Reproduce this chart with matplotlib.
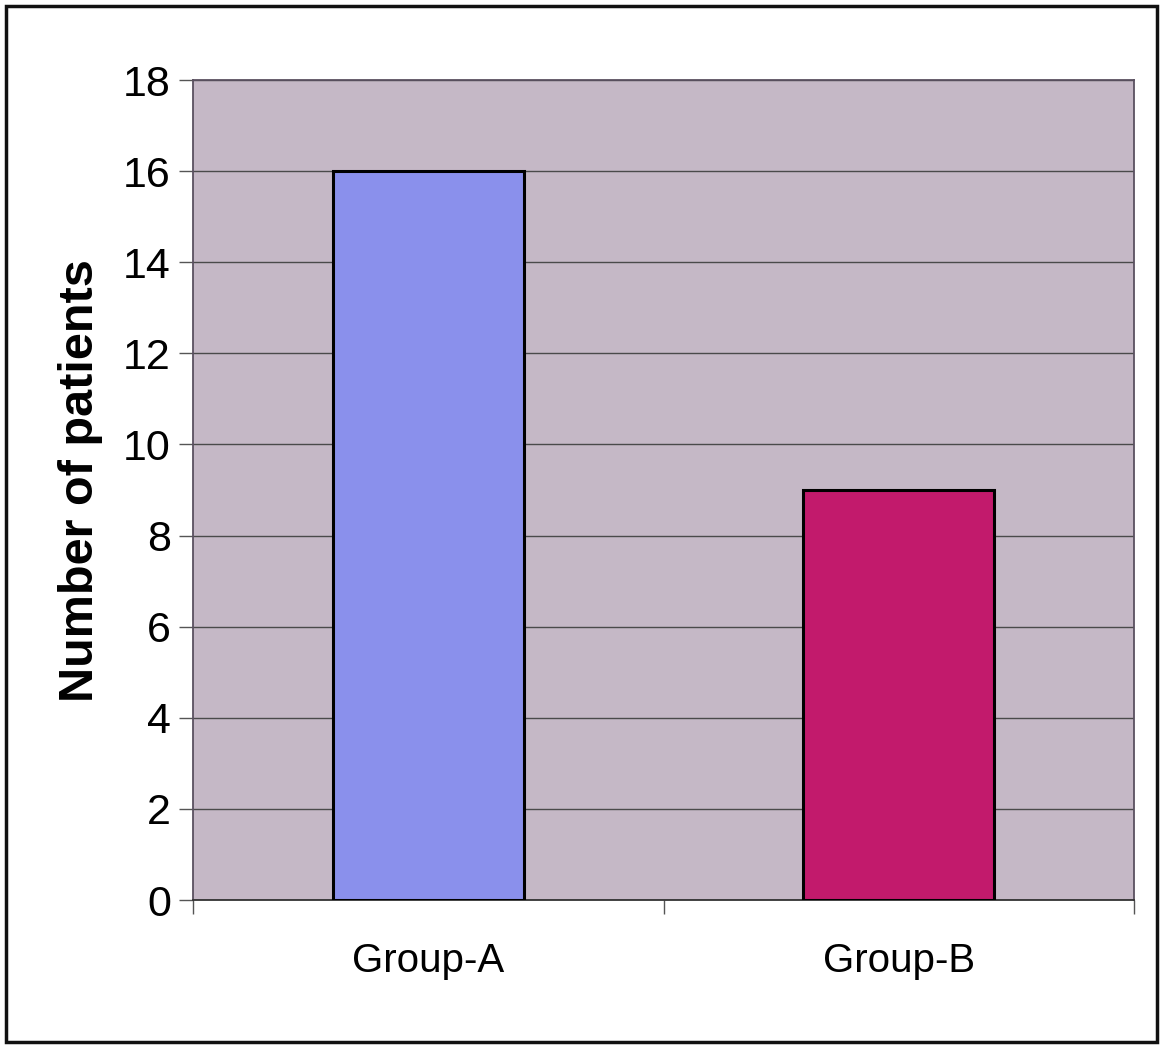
import matplotlib
matplotlib.use("Agg")
import matplotlib.pyplot as plt
from matplotlib.patches import Rectangle
from matplotlib.ticker import FixedLocator, NullFormatter

categories = ["Group-A", "Group-B"]
patients = [16, 9]
bar_colors = ["#8a90ec", "#c21a6c"]
y_ticks = [0, 2, 4, 6, 8, 10, 12, 14, 16, 18]

plt.rcParams["font.family"] = ["Liberation Sans", "DejaVu Sans"]

W, H = 1164, 1048
fig = plt.figure(figsize=(W / 100, H / 100), dpi=100)
fig.patch.set_facecolor("white")

# outer chart frame
fig.add_artist(Rectangle((6 / W, 6 / H), (1157 - 6) / W, (1042 - 6) / H,
                         transform=fig.transFigure, fill=False,
                         edgecolor="#111111", linewidth=2.5))

left, right, top, bottom = 193, 1134, 80, 900
ax = fig.add_axes([left / W, 1 - bottom / H, (right - left) / W, (bottom - top) / H])
ax.set_facecolor("#c5b8c6")

x = list(range(len(categories)))
ax.bar(x, patients, width=0.405, color=bar_colors, edgecolor="black",
       linewidth=2.2, zorder=3)

ax.set_xlim(-0.5, len(categories) - 0.5)
ax.set_ylim(0, 18)
ax.yaxis.set_major_locator(FixedLocator(y_ticks))
ax.yaxis.grid(True, color="#4a4a4a", linewidth=1.0, zorder=1)
ax.set_axisbelow(True)

# category separators as x ticks, labels centred under each bar
ax.xaxis.set_major_locator(FixedLocator([-0.5, 0.5, 1.5]))
ax.xaxis.set_major_formatter(NullFormatter())
ax.xaxis.set_minor_locator(FixedLocator(x))
ax.set_xticklabels(categories, minor=True, fontsize=29)
ax.tick_params(axis="x", which="major", length=10, width=1, color="#555555", direction="out")
ax.tick_params(axis="x", which="minor", length=0, pad=30)
ax.tick_params(axis="y", length=10, width=1, color="#555555", labelsize=31, pad=6)

for side in ["left", "top", "right"]:
    ax.spines[side].set_color("#5a5060")
    ax.spines[side].set_linewidth(1.3)
ax.spines["bottom"].set_color("#333333")
ax.spines["bottom"].set_linewidth(1.3)

ax.set_ylabel("Number of patients", fontsize=35, fontweight="bold")
ax.yaxis.set_label_coords(-0.096, 0.512)

fig.savefig("out.png", dpi=100, facecolor="white")
